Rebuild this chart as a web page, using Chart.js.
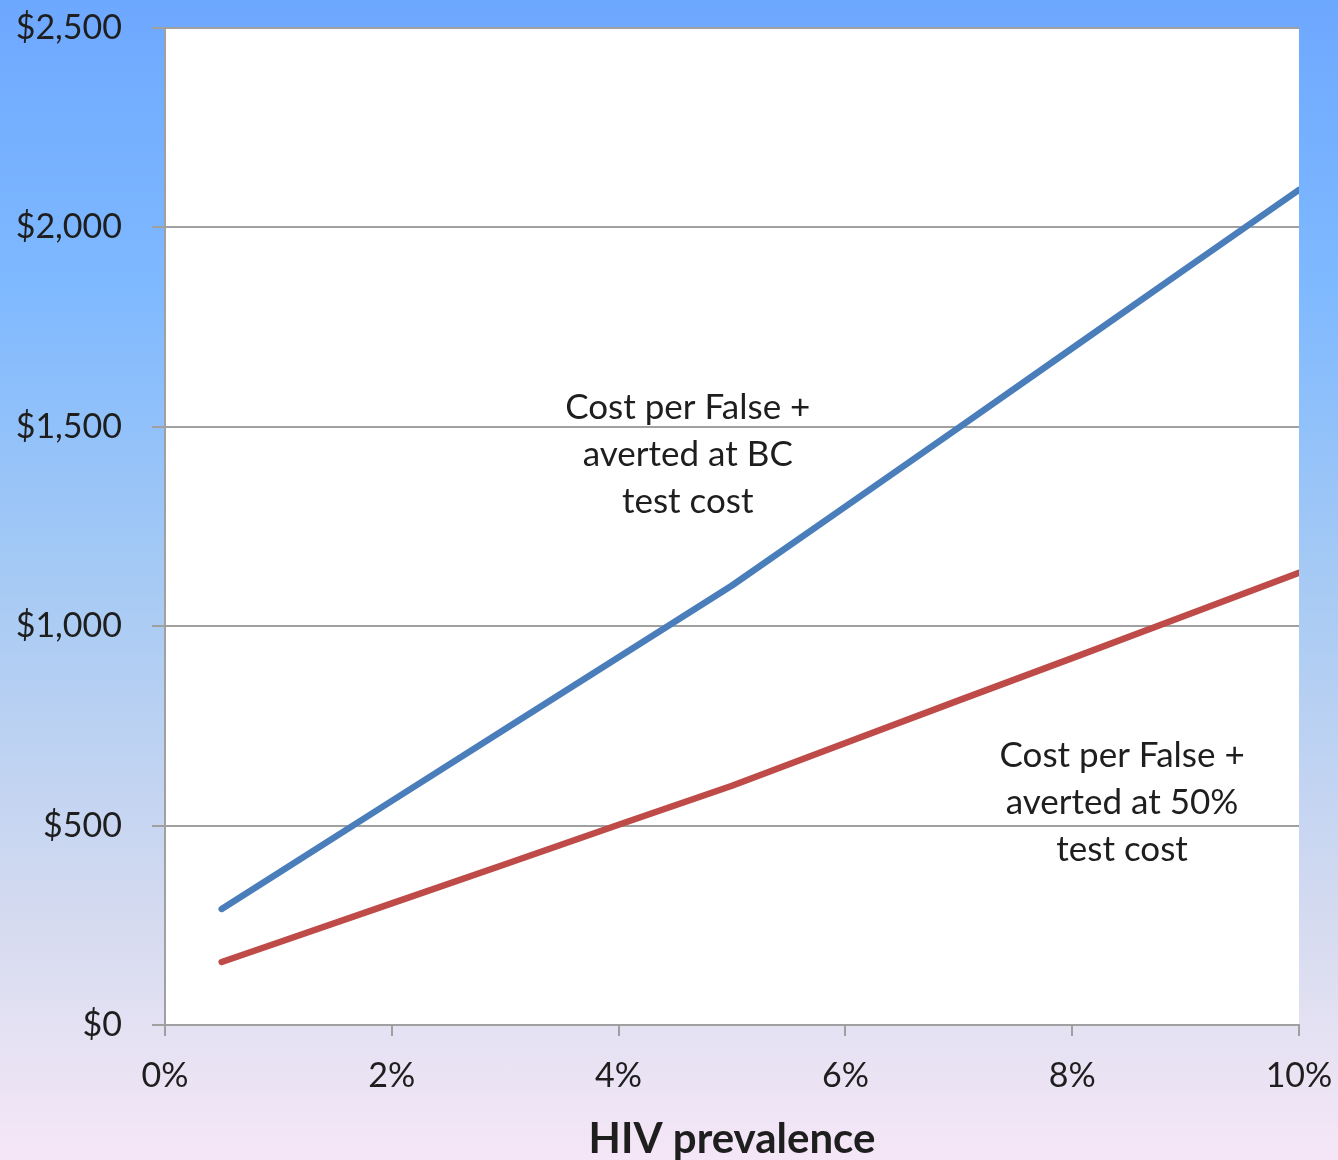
<!DOCTYPE html>
<html>
<head>
<meta charset="utf-8">
<script src="https://cdn.jsdelivr.net/npm/chart.js@4"></script>
<style>
  html, body { margin: 0; padding: 0; }
  body {
    width: 1338px; height: 1160px; overflow: hidden;
    background: linear-gradient(to bottom, #6da8ff 0%, #7fb9ff 25%, #a6caf4 50%, #d6dbf0 80%, #e6e2f3 90%, #f5e6f7 100%);
  }
  #wrap { position: relative; width: 1338px; height: 1160px; }
</style>
</head>
<body>
<div id="wrap"><canvas id="c" width="1338" height="1160"></canvas></div>
<script>
// HIV prevalence (%) at which each cost was evaluated
const prevalence = [0.5, 1, 2, 3, 4, 5, 6, 7, 8, 9, 10];
// Cost per false positive averted, base-case test cost ($)
const costBaseCase = [291, 381, 562, 742, 922, 1102, 1300, 1498, 1697, 1896, 2094];
// Cost per false positive averted, test cost at 50% ($)
const costHalfTest = [158, 207, 305, 403, 502, 600, 707, 814, 920, 1027, 1134];
// Axis tick values
const xTicks = [0, 2, 4, 6, 8, 10];
const yTicks = [0, 500, 1000, 1500, 2000, 2500];

const seriesLabels = [
  ['Cost per False +', 'averted at BC', 'test cost'],
  ['Cost per False +', 'averted at 50%', 'test cost']
];

const FONT = 'Lato, "Open Sans", sans-serif';
const TEXT = '#1e1e1e';
const GRID = '#a0a0a0';

// White plotting area
const plotBackground = {
  id: 'plotBackground',
  beforeDraw(chart) {
    const { ctx, chartArea: a } = chart;
    ctx.save();
    ctx.fillStyle = '#ffffff';
    ctx.fillRect(a.left, a.top, a.right - a.left, a.bottom - a.top);
    ctx.restore();
  }
};

// Multi-line text labels placed in data coordinates next to each line
const lineLabels = {
  id: 'lineLabels',
  afterDatasetsDraw(chart, args, opts) {
    const { ctx, scales } = chart;
    ctx.save();
    ctx.font = '35px ' + FONT;
    ctx.fillStyle = TEXT;
    ctx.textAlign = 'center';
    ctx.textBaseline = 'middle';
    opts.items.forEach(item => {
      const x = scales.x.getPixelForValue(item.x);
      const y = scales.y.getPixelForValue(item.y);
      item.lines.forEach((t, i) => ctx.fillText(t, x, y + i * 47));
    });
    ctx.restore();
  }
};

// Let the layout padding alone decide the plot edges (no extra room for edge labels)
function noEdgePadding(scale) {
  scale.paddingTop = 0;
  scale.paddingBottom = 0;
  scale.paddingLeft = 0;
  scale.paddingRight = 0;
}

new Chart(document.getElementById('c'), {
  type: 'line',
  data: {
    datasets: [
      {
        label: seriesLabels[0].join(' '),
        data: prevalence.map((p, i) => ({ x: p, y: costBaseCase[i] })),
        borderColor: '#4a7ebb',
        borderWidth: 6.5
      },
      {
        label: seriesLabels[1].join(' '),
        data: prevalence.map((p, i) => ({ x: p, y: costHalfTest[i] })),
        borderColor: '#be4b48',
        borderWidth: 6.5
      }
    ]
  },
  options: {
    responsive: false,
    animation: false,
    layout: { padding: { top: 28, right: 39, left: 0, bottom: 0 } },
    elements: {
      line: { tension: 0, borderCapStyle: 'round', borderJoinStyle: 'round' },
      point: { radius: 0 }
    },
    plugins: {
      legend: { display: false },
      tooltip: { enabled: false },
      lineLabels: {
        items: [
          { x: 4.61, y: 1549, lines: seriesLabels[0] },
          { x: 8.44, y: 674, lines: seriesLabels[1] }
        ]
      }
    },
    scales: {
      x: {
        type: 'linear',
        min: 0, max: 10,
        afterBuildTicks(scale) { scale.ticks = xTicks.map(v => ({ value: v })); },
        afterFit(scale) { scale.height = 135; noEdgePadding(scale); },
        ticks: {
          callback: v => v + '%',
          font: { family: FONT, size: 34 },
          color: TEXT,
          padding: 20,
          maxRotation: 0
        },
        grid: { drawOnChartArea: false, color: GRID, lineWidth: 2, tickLength: 11 },
        border: { color: GRID, width: 2 },
        title: {
          display: true,
          text: 'HIV prevalence',
          font: { family: FONT, size: 42, weight: 'bold', lineHeight: 1.0 },
          color: TEXT,
          padding: { top: 10, bottom: 0 }
        }
      },
      y: {
        type: 'linear',
        min: 0, max: 2500,
        afterBuildTicks(scale) { scale.ticks = yTicks.map(v => ({ value: v })); },
        afterFit(scale) { scale.width = 165; noEdgePadding(scale); },
        ticks: {
          callback: v => '$' + v.toLocaleString('en-US'),
          font: { family: FONT, size: 34 },
          color: TEXT,
          padding: 30
        },
        grid: { color: GRID, lineWidth: 2, tickLength: 13 },
        border: { color: GRID, width: 2 }
      }
    }
  },
  plugins: [plotBackground, lineLabels]
});
</script>
</body>
</html>
